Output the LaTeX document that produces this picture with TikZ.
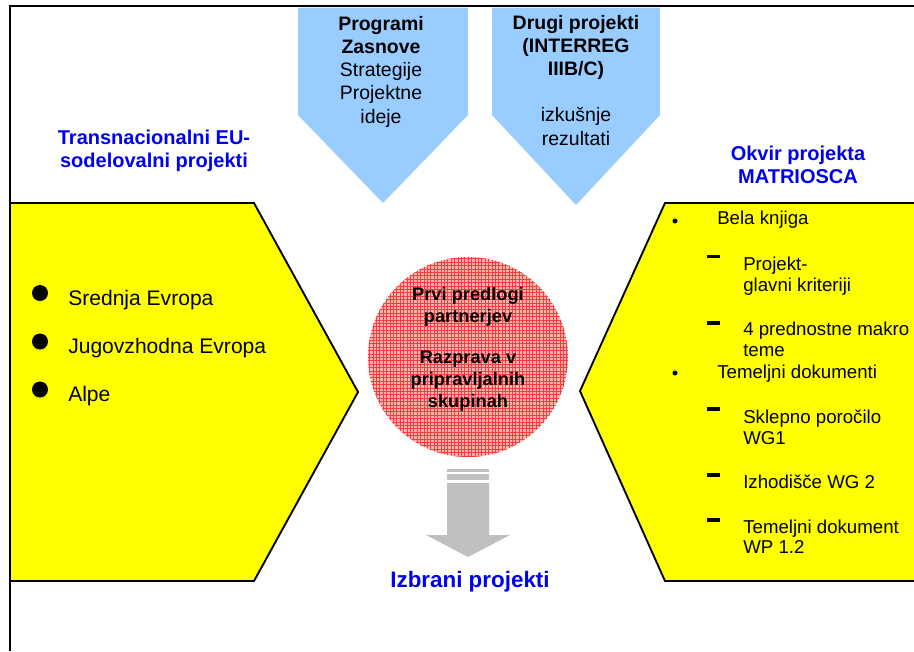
\documentclass[tikz,border=0pt]{standalone}
\usepackage{fontspec}
\setmainfont{Liberation Sans}
\definecolor{ylw}{RGB}{255,255,0}
\definecolor{lblue}{RGB}{153,204,255}
\definecolor{ttlblue}{RGB}{0,0,240}
\definecolor{pinkfill}{RGB}{255,180,180}
\definecolor{gridred}{RGB}{250,60,60}
\definecolor{arrgray}{RGB}{192,192,192}
\tikzset{
  yshape/.style={fill=ylw},
  youtline/.style={draw=black,line width=1.4pt,line join=miter},
  bluebox/.style={fill=lblue},
  ttl/.style={text=ttlblue,font=\fontsize{15}{17}\selectfont\bfseries,align=center,inner sep=0pt},
  ptxt/.style={font=\fontsize{14.6}{17.3}\selectfont,align=center,inner sep=0pt},
  ltxt/.style={font=\fontsize{15.8}{19}\selectfont,anchor=base west,inner sep=0pt},
  rtxt/.style={font=\fontsize{14}{16}\selectfont,anchor=base west,inner sep=0pt},
  ctxt/.style={font=\fontsize{13.7}{16.2}\selectfont\bfseries,align=center,inner sep=0pt},
  dashmark/.style={line width=2.4pt},
}
\begin{document}
\begin{tikzpicture}[x=0.75pt,y=-0.75pt]
\useasboundingbox (0,0) rectangle (914,651);
\fill[white] (0,0) rectangle (914,651);
% frame
\draw[line width=1.6pt] (10,651) -- (10,6) -- (914,6);
% blue pentagons
\fill[bluebox] (298,7.5) -- (468,7.5) -- (468,115) -- (383,203) -- (298,115) -- cycle;
\fill[bluebox] (492,7.5) -- (660,7.5) -- (660,115) -- (576,205) -- (492,115) -- cycle;
% left yellow
\fill[yshape] (11,203) -- (254,203) -- (358,392) -- (254,581) -- (11,581) -- cycle;
\draw[youtline] (11,203) -- (254,203) -- (358,392) -- (254,581) -- (11,581);
% right yellow
\fill[yshape] (916,203) -- (665,203) -- (580,391) -- (665,581) -- (916,581) -- cycle;
\draw[youtline] (916,203) -- (665,203) -- (580,391) -- (665,581) -- (916,581);
% circle
\begin{scope}
\clip (468,357) circle[radius=100];
\fill[pinkfill] (468,357) circle[radius=100];
\foreach \i in {0,...,60}{
  \draw[gridred,line width=0.16pt] (366+\i*3.4,255) -- (366+\i*3.4,460);
  \draw[gridred,line width=0.16pt] (365,255+\i*3.4) -- (572,255+\i*3.4);
}
\end{scope}
% gray arrow
\fill[arrgray] (447,469) rectangle (489,472);
\fill[arrgray] (447,474) rectangle (489,480);
\fill[arrgray] (447,483) -- (489,483) -- (489,535) -- (510,535) -- (468,557) -- (426,535) -- (447,535) -- cycle;
% titles
\node[ttl,anchor=base] (tl) at (154,167) {Transnacionalni EU-\\sodelovalni projekti};
\node[ttl,anchor=base] (tr) at (798,183.5) {Okvir projekta\\MATRIOSCA};
\node[ttl,anchor=base,font=\fontsize{16.8}{19}\selectfont\bfseries] (izb) at (470,587) {Izbrani projekti};
% pentagon texts
\node[ptxt,anchor=base] (pa) at (381,123) {\textbf{Programi}\\\textbf{Zasnove}\\Strategije\\Projektne\\ideje};
\node[ptxt,anchor=base] (pb) at (576,145) {\textbf{Drugi projekti}\\\textbf{(INTERREG}\\\textbf{IIIB/C)}\\[17.3pt]izkušnje\\rezultati};
% circle text
\node[ctxt,anchor=base] (c1) at (468,322.5) {Prvi predlogi\\partnerjev};
\node[ctxt,anchor=base] (c2) at (468,407) {Razprava v\\pripravljalnih\\skupinah};
% left list
\foreach \yy in {293,341.5,389.5}{\fill (40,\yy) circle[radius=8];}
\node[ltxt] (l1) at (68,305) {Srednja Evropa};
\node[ltxt] (l2) at (68,353) {Jugovzhodna Evropa};
\node[ltxt] (l3) at (68,401) {Alpe};
% right list
\fill (675,221) circle[radius=2.5];
\fill (675,373) circle[radius=2.5];
\foreach \yy in {256.5,323,409,475,520}{\draw[dashmark] (707,\yy) -- (720,\yy);}
\node[rtxt] (r1) at (717,224.5) {Bela knjiga};
\node[rtxt] (r2) at (743,270.5) {Projekt-};
\node[rtxt] (r3) at (743,291.5) {glavni kriteriji};
\node[rtxt] (r4) at (743,335) {4 prednostne makro};
\node[rtxt] (r5) at (743,356) {teme};
\node[rtxt] (r6) at (717,378) {Temeljni dokumenti};
\node[rtxt] (r7) at (743,423) {Sklepno poročilo};
\node[rtxt] (r8) at (743,444) {WG1};
\node[rtxt] (r9) at (743,488) {Izhodišče WG 2};
\node[rtxt] (r10) at (743,533) {Temeljni dokument};
\node[rtxt] (r11) at (743,553.5) {WP 1.2};
\end{tikzpicture}
\end{document}
